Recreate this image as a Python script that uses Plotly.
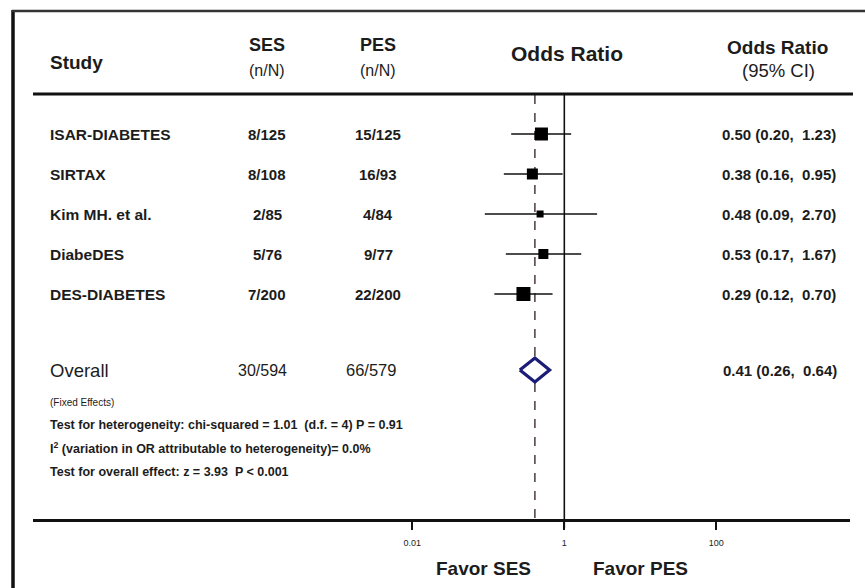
import plotly.graph_objects as go

# ---------------- data ----------------
studies = ["ISAR-DIABETES", "SIRTAX", "Kim MH. et al.", "DiabeDES", "DES-DIABETES"]
ses_events = ["8/125", "8/108", "2/85", "5/76", "7/200"]
pes_events = ["15/125", "16/93", "4/84", "9/77", "22/200"]
odds_ratio = [0.50, 0.38, 0.48, 0.53, 0.29]
ci_low = [0.20, 0.16, 0.09, 0.17, 0.12]
ci_high = [1.23, 0.95, 2.70, 1.67, 0.70]

overall_label = "Overall"
overall_ses = "30/594"
overall_pes = "66/579"
overall_or = 0.41
overall_low = 0.26
overall_high = 0.64

axis_ticks = [0.01, 1, 100]
axis_ticktext = ["0.01", "1", "100"]

footnotes = [
    "(Fixed Effects)",
    "Test for heterogeneity: chi-squared = 1.01  (d.f. = 4) P = 0.91",
    "I<sup>2</sup> (variation in OR attributable to heterogeneity)= 0.0%",
    "Test for overall effect: z = 3.93  P < 0.001",
]

# ---------------- style ----------------
W, H = 865, 588
FONT = "Liberation Sans, Arial, sans-serif"
TXT = "#1c1c1c"
square_sizes = [13, 11, 7, 10, 14]
row_pos = [0, 1, 2, 3, 4]
overall_pos = 5.9
diamond_half = 0.3


def px(x):
    return x / W


def py(y):
    return 1 - y / H


fig = go.Figure()

# confidence interval lines
cx, cy = [], []
for lo, hi, r in zip(ci_low, ci_high, row_pos):
    cx += [lo, hi, None]
    cy += [r, r, None]
fig.add_trace(go.Scatter(x=cx, y=cy, mode="lines",
                         line=dict(color="#111111", width=1.6),
                         hoverinfo="skip", showlegend=False))

# study point estimates
fig.add_trace(go.Scatter(x=odds_ratio, y=row_pos, mode="markers",
                         marker=dict(symbol="square", size=square_sizes,
                                     color="#000000", opacity=1,
                                     line=dict(width=0)),
                         opacity=1, showlegend=False))

# overall diamond
fig.add_trace(go.Scatter(
    x=[overall_low, overall_or, overall_high, overall_or, overall_low],
    y=[overall_pos, overall_pos - diamond_half, overall_pos,
       overall_pos + diamond_half, overall_pos],
    mode="lines", fill="toself", fillcolor="white",
    line=dict(color="#1b1b78", width=3.2),
    hoverinfo="skip", showlegend=False))

shapes = []
# frame (left + top)
shapes.append(dict(type="line", xref="paper", yref="paper",
                   x0=px(13), x1=px(13), y0=py(10), y1=py(H),
                   line=dict(color="#111", width=3.5)))
shapes.append(dict(type="line", xref="paper", yref="paper",
                   x0=px(12), x1=px(W), y0=py(11), y1=py(11),
                   line=dict(color="#333", width=2.5)))
# header rule
shapes.append(dict(type="line", xref="paper", yref="paper",
                   x0=px(33), x1=px(853), y0=py(94), y1=py(94),
                   line=dict(color="#111", width=3)))
# overall dashed reference line
shapes.append(dict(type="line", xref="x", yref="paper", layer="below",
                   x0=overall_or, x1=overall_or, y0=py(95), y1=py(520),
                   line=dict(color="#4a3a3a", width=1.5, dash="dash")))
# line of no effect
shapes.append(dict(type="line", xref="x", yref="paper", layer="below",
                   x0=1, x1=1, y0=py(95), y1=py(528),
                   line=dict(color="#111", width=1.6)))

ann = []


def t(x, y, text, size, anchor="center", bold=False, yref="paper"):
    s = f"<b>{text}</b>" if bold else text
    ann.append(dict(x=px(x), y=(py(y) if yref == "paper" else y),
                    xref="paper", yref=yref, text=s, showarrow=False,
                    xanchor=anchor, yanchor="middle",
                    font=dict(family=FONT, size=size, color=TXT)))


# headers
t(48, 63, "Study", 19, "left", True)
t(267, 45, "SES", 18, bold=True)
t(267, 70, "(n/N)", 16)
t(378, 45, "PES", 18, bold=True)
t(378, 70, "(n/N)", 16)
t(567, 53, "Odds Ratio", 21, bold=True)
t(777, 47, "Odds Ratio", 19, bold=True)
t(778, 70, "(95% CI)", 18.5)

# study rows
for name, s, p, o, lo, hi, r in zip(studies, ses_events, pes_events,
                                     odds_ratio, ci_low, ci_high, row_pos):
    t(48, r, name, 15.5, "left", True, yref="y")
    t(267, r, s, 15, bold=True, yref="y")
    t(378, r, p, 15, bold=True, yref="y")
    t(779, r, f"{o:.2f} ({lo:.2f},  {hi:.2f})", 15, bold=True, yref="y")

# overall row
t(48, overall_pos, overall_label, 18.5, "left", yref="y")
t(262, overall_pos, overall_ses, 16, yref="y")
t(371, overall_pos, overall_pes, 16.5, yref="y")
t(780, overall_pos, f"{overall_or:.2f} ({overall_low:.2f},  {overall_high:.2f})",
  15, bold=True, yref="y")

# footnotes
for i, (txt, y) in enumerate(zip(footnotes, [402, 425, 448, 472])):
    if i == 0:
        t(48, y, txt, 10, "left")
    else:
        t(48, y, txt, 12.5, "left", True)

# favor labels
t(483, 568, "Favor SES", 19, bold=True)
t(640, 568, "Favor PES", 19, bold=True)

fig.update_layout(
    width=W, height=H,
    margin=dict(l=0, r=0, t=0, b=0),
    paper_bgcolor="white", plot_bgcolor="white",
    shapes=shapes, annotations=ann,
    showlegend=False,
    xaxis=dict(type="log", domain=[33 / W, 850 / W],
               range=[-6.991, 3.759],
               anchor="free", position=1 - 520 / H,
               showline=True, linewidth=3, linecolor="#111",
               ticks="outside", ticklen=8, tickwidth=1.5, tickcolor="#111",
               tickvals=axis_ticks, ticktext=axis_ticktext,
               ticklabelstandoff=5,
               tickfont=dict(family=FONT, size=9, color=TXT),
               showgrid=False, zeroline=False, fixedrange=True),
    yaxis=dict(range=[11.35, -3.35], domain=[0, 1], visible=False,
               showgrid=False, zeroline=False, fixedrange=True),
)

fig.write_html("out.html")
